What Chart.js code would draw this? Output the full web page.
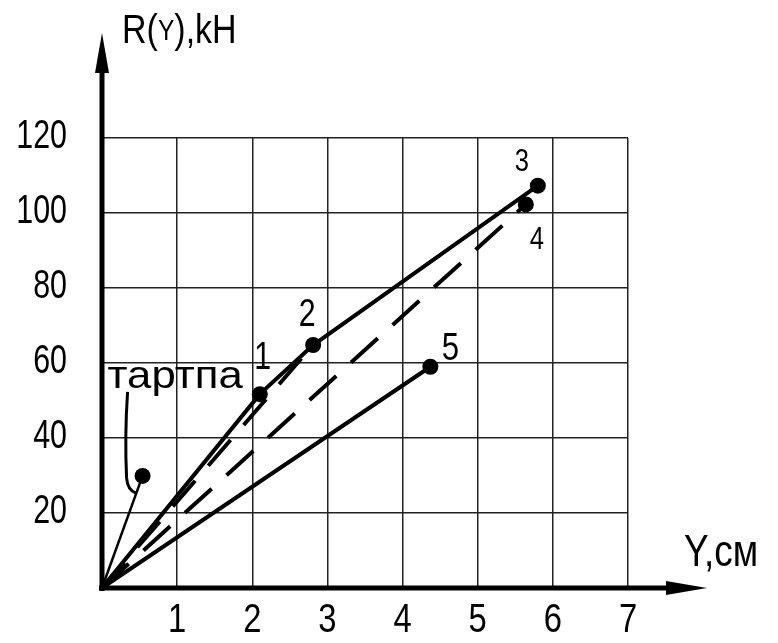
<!DOCTYPE html>
<html>
<head>
<meta charset="utf-8">
<script src="https://cdn.jsdelivr.net/npm/chart.js@4.4.0/dist/chart.umd.min.js"></script>
<style>
  html, body { margin: 0; padding: 0; background: #fff; }
  #wrap { width: 778px; height: 643px; }
</style>
</head>
<body>
<div id="wrap"><canvas id="grafico"></canvas></div>
<script>
// Y, см
const xTicks = [0, 1, 2, 3, 4, 5, 6, 7];
// R(Y), кН
const yTicks = [0, 20, 40, 60, 80, 100, 120];

// curve 0-1-2-3 (solid)
const curvaX = [0, 2.10, 2.81, 5.80];
const curvaY = [0, 51.7, 64.8, 107.3];
// dashed 0-2
const raya2X = [0, 2.81];
const raya2Y = [0, 64.8];
// dashed 0-4
const raya4X = [0, 5.64];
const raya4Y = [0, 102.3];
// solid 0-5
const raya5X = [0, 4.37];
const raya5Y = [0, 59.0];
// тартпа
const tartpaX = [0, 0.54];
const tartpaY = [0, 29.9];

const nombres = ['1', '2', '3', '4', '5'];
const FONT = '"Liberation Sans", sans-serif';

function pares(xs, ys) {
  return xs.map((x, i) => ({ x, y: ys[i] }));
}

function radios(n) {
  return Array.from({ length: n }, (_, i) => (i === 0 ? 0 : 8));
}

// narrow text (the drawing uses a condensed technical font)
function texto(ctx, s, x, y, size, align, esc) {
  ctx.save();
  ctx.font = size + 'px ' + FONT;
  ctx.textAlign = align;
  ctx.textBaseline = 'alphabetic';
  ctx.translate(x, y);
  ctx.scale(esc, 1);
  ctx.fillText(s, 0, 0);
  ctx.restore();
}

// axes with arrows, tick labels, point numbers and the "тартпа" note
const dibujo = {
  id: 'dibujo',
  afterDatasetsDraw(chart) {
    const ctx = chart.ctx;
    const sx = chart.scales.x, sy = chart.scales.y;
    const x0 = sx.getPixelForValue(0), y0 = sy.getPixelForValue(0);

    ctx.save();
    ctx.strokeStyle = '#000';
    ctx.fillStyle = '#000';
    ctx.lineWidth = 5;
    ctx.beginPath();
    ctx.moveTo(x0, y0 + 3);
    ctx.lineTo(x0, 60);
    ctx.moveTo(x0 - 3, y0);
    ctx.lineTo(690, y0);
    ctx.stroke();

    // arrow heads
    ctx.beginPath();
    ctx.moveTo(x0, 33);
    ctx.lineTo(x0 - 7, 73);
    ctx.lineTo(x0 + 7, 73);
    ctx.closePath();
    ctx.fill();
    ctx.beginPath();
    ctx.moveTo(707, y0);
    ctx.lineTo(666, y0 - 7);
    ctx.lineTo(666, y0 + 7);
    ctx.closePath();
    ctx.fill();

    // tick labels
    xTicks.forEach(v => {
      if (v === 0) return;
      texto(ctx, String(v), sx.getPixelForValue(v), 632, 41, 'center', 0.8);
    });
    yTicks.forEach(v => {
      if (v === 0) return;
      texto(ctx, String(v), 67, sy.getPixelForValue(v) + 10, 40, 'right', 0.76);
    });

    // axis titles
    let tx = 122;
    ctx.font = '40px ' + FONT;
    texto(ctx, 'R(', tx, 43, 40, 'left', 0.85);
    tx += ctx.measureText('R(').width * 0.85;
    texto(ctx, 'Y', tx, 40, 29, 'left', 0.85);
    ctx.font = '29px ' + FONT;
    tx += ctx.measureText('Y').width * 0.85;
    texto(ctx, '),kH', tx, 43, 40, 'left', 0.85);

    texto(ctx, 'Y,см', 684, 566, 44, 'left', 0.84);

    // numbers next to points 1..5
    const puntos = [
      [curvaX[1], curvaY[1]],
      [curvaX[2], curvaY[2]],
      [curvaX[3], curvaY[3]],
      [raya4X[1], raya4Y[1]],
      [raya5X[1], raya5Y[1]]
    ];
    const offs = [[3, -25], [-6, -19], [-16, -15], [11, 45], [20, -7]];
    const tam = [38, 38, 32, 32, 39];
    puntos.forEach((p, i) => {
      texto(ctx, nombres[i], sx.getPixelForValue(p[0]) + offs[i][0],
        sy.getPixelForValue(p[1]) + offs[i][1], tam[i], 'center', 0.8);
    });

    // тартпа label with leader
    const px = sx.getPixelForValue(tartpaX[1]);
    const py = sy.getPixelForValue(tartpaY[1]);
    texto(ctx, 'тартпа', px - 35, py - 88, 39, 'left', 1.12);
    ctx.lineWidth = 3;
    ctx.beginPath();
    ctx.moveTo(px - 15, py - 84);
    ctx.quadraticCurveTo(px - 18, py - 40, px - 16, py + 2);
    ctx.quadraticCurveTo(px - 15, py + 14, px - 7, py + 17);
    ctx.stroke();
    ctx.restore();
  }
};

new Chart(document.getElementById('grafico'), {
  type: 'scatter',
  data: {
    datasets: [
      {
        data: pares(curvaX, curvaY),
        showLine: true,
        borderColor: '#000',
        backgroundColor: '#000',
        borderWidth: 4,
        pointRadius: radios(curvaX.length),
        pointBorderWidth: 0
      },
      {
        data: pares(raya2X, raya2Y),
        showLine: true,
        borderColor: '#000',
        borderWidth: 4,
        borderDash: [34, 20],
        pointRadius: 0
      },
      {
        data: pares(raya4X, raya4Y),
        showLine: true,
        borderColor: '#000',
        backgroundColor: '#000',
        borderWidth: 4,
        borderDash: [36, 20],
        pointRadius: radios(raya4X.length),
        pointBorderWidth: 0
      },
      {
        data: pares(raya5X, raya5Y),
        showLine: true,
        borderColor: '#000',
        backgroundColor: '#000',
        borderWidth: 4,
        pointRadius: radios(raya5X.length),
        pointBorderWidth: 0
      },
      {
        data: pares(tartpaX, tartpaY),
        showLine: true,
        borderColor: '#000',
        backgroundColor: '#000',
        borderWidth: 2.5,
        pointRadius: radios(tartpaX.length),
        pointBorderWidth: 0
      }
    ]
  },
  options: {
    responsive: true,
    maintainAspectRatio: false,
    animation: false,
    layout: { padding: { left: 0, top: 138, right: 150, bottom: 0 } },
    plugins: {
      legend: { display: false },
      tooltip: { enabled: false }
    },
    scales: {
      x: {
        type: 'linear',
        min: xTicks[0],
        max: xTicks[xTicks.length - 1],
        afterFit(scale) { scale.height = 55; },
        afterBuildTicks(scale) { scale.ticks = xTicks.map(v => ({ value: v })); },
        border: { display: false },
        grid: { color: '#222', lineWidth: 1.5, drawTicks: false },
        ticks: { display: false }
      },
      y: {
        type: 'linear',
        min: yTicks[0],
        max: yTicks[yTicks.length - 1],
        afterFit(scale) { scale.width = 102; },
        afterBuildTicks(scale) { scale.ticks = yTicks.map(v => ({ value: v })); },
        border: { display: false },
        grid: { color: '#222', lineWidth: 1.5, drawTicks: false },
        ticks: { display: false }
      }
    }
  },
  plugins: [dibujo]
});
</script>
</body>
</html>
